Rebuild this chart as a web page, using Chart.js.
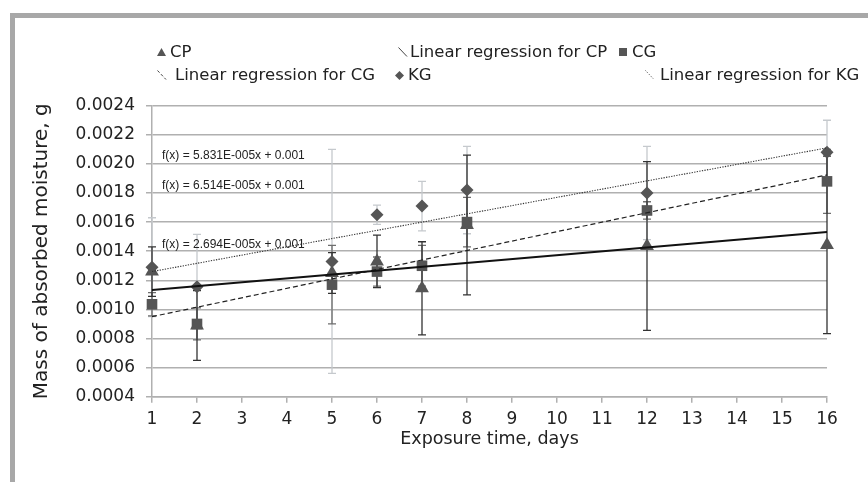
<!DOCTYPE html>
<html><head><meta charset="utf-8">
<script src="https://cdn.jsdelivr.net/npm/chart.js@4.4.1/dist/chart.umd.min.js"></script>
<style>
html,body{margin:0;padding:0;background:#fff;}
#wrap{position:relative;width:868px;height:482px;overflow:hidden;background:#fff;font-family:"DejaVu Sans",sans-serif;}
#frame{position:absolute;left:10px;top:13px;width:900px;height:500px;border-left:5px solid #a8a8a8;border-top:5px solid #a8a8a8;}
canvas{position:absolute;left:0;top:0;}
.lg{position:absolute;font-size:16.5px;color:#222;white-space:nowrap;line-height:20px;height:20px;}
.mk{position:absolute;}
.eq{position:absolute;font-family:"Liberation Sans",Arial,sans-serif;font-size:12px;color:#222;white-space:nowrap;line-height:14px;}
</style></head>
<body><div id="wrap"><div id="frame"></div><canvas id="c" width="868" height="482"></canvas>
<!-- legend row 1 -->
<svg class="mk" style="left:157px;top:48px" width="9" height="8"><polygon points="4.5,0 9,8 0,8" fill="#555"/></svg>
<div class="lg" style="left:170px;top:42px">CP</div>
<svg class="mk" style="left:398px;top:47px" width="10" height="10"><line x1="0.5" y1="0.5" x2="9" y2="9.5" stroke="#444" stroke-width="1"/></svg>
<div class="lg" style="left:410px;top:42px">Linear regression for CP</div>
<svg class="mk" style="left:619px;top:48px" width="8" height="8"><rect x="0" y="0" width="8" height="8" fill="#555"/></svg>
<div class="lg" style="left:632px;top:42px">CG</div>
<!-- legend row 2 -->
<svg class="mk" style="left:157px;top:70px" width="10" height="10"><line x1="0.5" y1="0.5" x2="9" y2="9.5" stroke="#444" stroke-width="1" stroke-dasharray="3,2"/></svg>
<div class="lg" style="left:175px;top:65px">Linear regression for CG</div>
<svg class="mk" style="left:395px;top:71px" width="9" height="9"><polygon points="4.5,0 9,4.5 4.5,9 0,4.5" fill="#555"/></svg>
<div class="lg" style="left:408px;top:65px">KG</div>
<svg class="mk" style="left:645px;top:70px" width="10" height="10"><line x1="0.5" y1="0.5" x2="9" y2="9.5" stroke="#444" stroke-width="1" stroke-dasharray="1,1.5"/></svg>
<div class="lg" style="left:660px;top:65px">Linear regression for KG</div>
<!-- regression equations -->
<div class="eq" style="left:162px;top:148px">f(x) = 5.831E-005x + 0.001</div>
<div class="eq" style="left:162px;top:178px">f(x) = 6.514E-005x + 0.001</div>
<div class="eq" style="left:162px;top:237px">f(x) = 2.694E-005x + 0.001</div>
</div>
<script>
// ---- data ----
const days   = [1, 2, 5, 6, 7, 8, 12, 16];
const cpMass = [0.00126, 0.00089, 0.00125, 0.00133, 0.001145, 0.00158, 0.001436, 0.001443];
const cgMass = [0.001035, 0.00090, 0.00117, 0.00126, 0.00130, 0.00160, 0.00168, 0.00188];
const kgMass = [0.00129, 0.001156, 0.00133, 0.00165, 0.00171, 0.00182, 0.00180, 0.00208];
const cpErr  = [0.00017, 0.00024, 0.00014, 0.00018, 0.00032, 0.00048, 0.00058, 0.00061];
const cgErr  = [0.00008, 0.00011, 0.00027, 0.00010, 0.00014, 0.00017, 0.00006, 0.00022];
const kgErr  = [0.00034, 0.00036, 0.00077, 0.000066, 0.00017, 0.00030, 0.00032, 0.00022];
const trendDays = [1, 16];
const cpTrend = [0.001133, 0.001532];
const cgTrend = [0.00095, 0.001924];
const kgTrend = [0.00126, 0.00211];
const yTickLabels = ['0.0004','0.0006','0.0008','0.0010','0.0012','0.0014','0.0016','0.0018','0.0020','0.0022','0.0024'];

const pts = (xs, ys) => xs.map((d, i) => ({x: d, y: ys[i]}));

const errorBars = {
  id: 'errorBars',
  beforeDatasetsDraw(chart) {
    const {ctx, scales: {x, y}} = chart;
    const groups = [[kgMass, kgErr, '#c5c9cd'], [cgMass, cgErr, '#6e6e6e'], [cpMass, cpErr, '#333333']];
    ctx.save();
    ctx.lineWidth = 1.3;
    groups.forEach(([vals, errs, col]) => {
      ctx.strokeStyle = col;
      days.forEach((d, i) => {
        const px = x.getPixelForValue(d);
        const y1 = y.getPixelForValue(vals[i] + errs[i]);
        const y2 = y.getPixelForValue(vals[i] - errs[i]);
        ctx.beginPath();
        ctx.moveTo(px, y1); ctx.lineTo(px, y2);
        ctx.moveTo(px - 4, y1); ctx.lineTo(px + 4, y1);
        ctx.moveTo(px - 4, y2); ctx.lineTo(px + 4, y2);
        ctx.stroke();
      });
    });
    ctx.restore();
  }
};

const tickFont = {family: '"DejaVu Sans", sans-serif', size: 17};
const gridCol = '#b0b0b0';

new Chart(document.getElementById('c'), {
  type: 'scatter',
  data: {
    datasets: [
      {label: 'Linear regression for CP', data: pts(trendDays, cpTrend), showLine: true, borderColor: '#111', borderWidth: 2, pointRadius: 0, order: 0, clip: false},
      {label: 'Linear regression for CG', data: pts(trendDays, cgTrend), showLine: true, borderColor: '#222', borderWidth: 1.2, borderDash: [5, 3], pointRadius: 0, order: 1, clip: false},
      {label: 'Linear regression for KG', data: pts(trendDays, kgTrend), showLine: true, borderColor: '#333', borderWidth: 1.1, borderDash: [1.3, 1.3], pointRadius: 0, order: 2, clip: false},
      {label: 'CP', data: pts(days, cpMass), pointStyle: 'triangle', pointRadius: 8, backgroundColor: '#555', borderWidth: 0, order: 3, clip: false},
      {label: 'CG', data: pts(days, cgMass), pointStyle: 'rect', pointRadius: 7.5, backgroundColor: '#555', borderWidth: 0, order: 4, clip: false},
      {label: 'KG', data: pts(days, kgMass), pointStyle: 'rectRot', pointRadius: 6.5, backgroundColor: '#555', borderWidth: 0, order: 5, clip: false}
    ]
  },
  options: {
    responsive: false,
    animation: false,
    devicePixelRatio: 1,
    layout: {padding: {left: 30, top: 105.7, right: 41, bottom: 32}},
    plugins: {legend: {display: false}, tooltip: {enabled: false}},
    scales: {
      x: {
        type: 'linear', min: 1, max: 16,
        ticks: {stepSize: 1, font: tickFont, color: '#222', padding: 7},
        grid: {drawOnChartArea: false, drawTicks: true, tickLength: 6, color: gridCol, lineWidth: 1.5},
        border: {display: true, color: gridCol, width: 1.5},
        title: {display: true, text: 'Exposure time, days', font: {family: '"DejaVu Sans", sans-serif', size: 17.5}, color: '#222', padding: 0},
        afterFit(s) { s.height = 53.3; }
      },
      y: {
        type: 'linear', min: 0.0004, max: 0.0024,
        ticks: {stepSize: 0.0002, font: tickFont, color: '#222', padding: 11,
          callback: (v) => yTickLabels[Math.round((v - 0.0004) / 0.0002)]},
        grid: {drawTicks: true, tickLength: 6, color: gridCol, lineWidth: 1.5},
        border: {display: true, color: gridCol, width: 1.5},
        title: {display: true, text: 'Mass of absorbed moisture, g', font: {family: '"DejaVu Sans", sans-serif', size: 20}, color: '#222', padding: 0},
        afterFit(s) { s.width = 122; }
      }
    }
  },
  plugins: [errorBars]
});
</script>
</body></html>
